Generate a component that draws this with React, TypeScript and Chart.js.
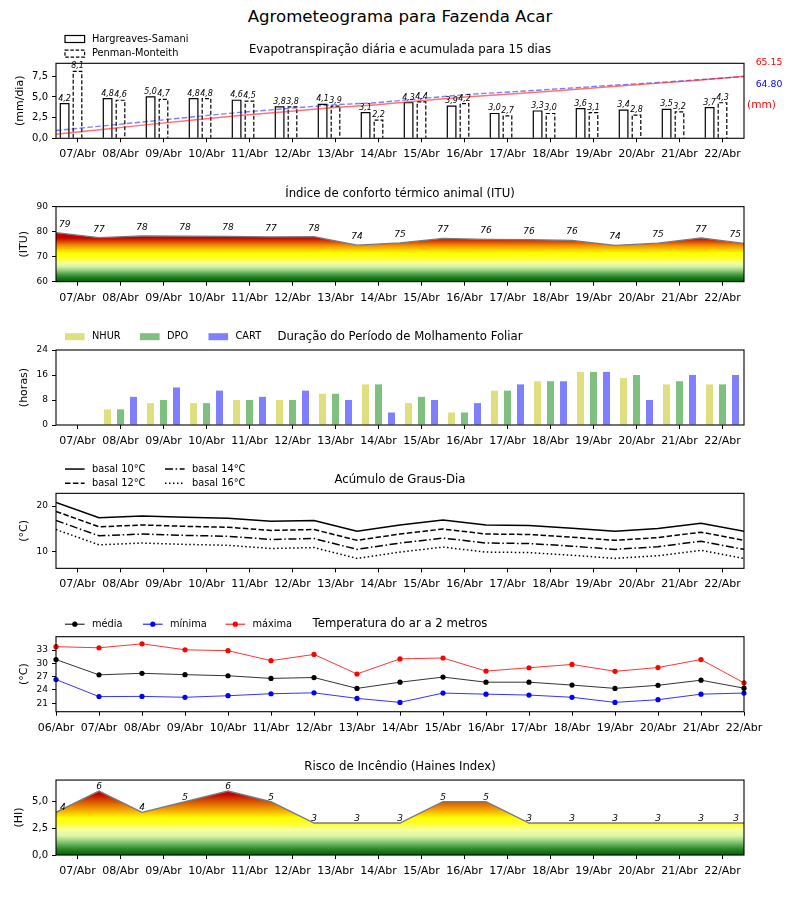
import React, { useEffect, useRef } from "react";
import { Chart, registerables } from "chart.js";

Chart.register(...registerables);

const FONT = "'DejaVu Sans', 'Liberation Sans', sans-serif";

// ---------------- data ----------------
const days = ["07/Abr", "08/Abr", "09/Abr", "10/Abr", "11/Abr", "12/Abr", "13/Abr", "14/Abr", "15/Abr", "16/Abr", "17/Abr", "18/Abr", "19/Abr", "20/Abr", "21/Abr", "22/Abr"];
const tempDays = ["06/Abr", "07/Abr", "08/Abr", "09/Abr", "10/Abr", "11/Abr", "12/Abr", "13/Abr", "14/Abr", "15/Abr", "16/Abr", "17/Abr", "18/Abr", "19/Abr", "20/Abr", "21/Abr", "22/Abr"];

const etHargreaves = [4.2, 4.8, 5.0, 4.8, 4.6, 3.8, 4.1, 3.1, 4.3, 3.9, 3.0, 3.3, 3.6, 3.4, 3.5, 3.7];
const etPenman = [8.1, 4.6, 4.7, 4.8, 4.5, 3.8, 3.9, 2.2, 4.4, 4.2, 2.7, 3.0, 3.1, 2.8, 3.2, 4.3];
const etHargreavesAccum = [4.3, 9.2, 14.4, 19.3, 24.0, 27.9, 32.1, 35.3, 39.7, 43.7, 46.8, 50.2, 53.9, 57.4, 61.0, 65.15];
const etPenmanAccum = [8.2, 12.9, 17.7, 22.6, 27.2, 31.1, 35.1, 37.4, 41.9, 46.2, 49.0, 52.1, 55.3, 58.2, 61.5, 64.8];
const etTotalLabels = ["65.15", "64.80"];
const etTicks = [0, 2.5, 5, 7.5];

const ituValues = [79.6, 77.6, 78.3, 78.2, 78.1, 77.9, 78.0, 74.6, 75.5, 77.3, 76.9, 76.8, 76.5, 74.5, 75.4, 77.5, 75.3];
const ituTicks = [60, 70, 80, 90];

const wetNHUR = [0, 5, 7, 7, 8, 8, 10, 13, 7, 4, 11, 14, 17, 15, 13, 13];
const wetDPO = [0, 5, 8, 7, 8, 8, 10, 13, 9, 4, 11, 14, 17, 16, 14, 13];
const wetCART = [0, 9, 12, 11, 9, 11, 8, 4, 8, 7, 13, 14, 17, 8, 16, 16];
const wetTicks = [0, 8, 16, 24];

const gdd10 = [20.8, 17.4, 17.8, 17.5, 17.3, 16.6, 16.8, 14.4, 15.8, 16.9, 15.8, 15.7, 15.1, 14.4, 15.0, 16.2, 14.4];
const gdd12 = [18.8, 15.4, 15.8, 15.5, 15.3, 14.6, 14.8, 12.4, 13.8, 14.9, 13.8, 13.7, 13.1, 12.4, 13.0, 14.2, 12.4];
const gdd14 = [16.8, 13.4, 13.8, 13.5, 13.3, 12.6, 12.8, 10.4, 11.8, 12.9, 11.8, 11.7, 11.1, 10.4, 11.0, 12.2, 10.4];
const gdd16 = [14.8, 11.4, 11.8, 11.5, 11.3, 10.6, 10.8, 8.4, 9.8, 10.9, 9.8, 9.7, 9.1, 8.4, 9.0, 10.2, 8.4];
const gddTicks = [10, 20];

const tMean = [30.85, 27.4, 27.75, 27.45, 27.2, 26.6, 26.8, 24.35, 25.75, 26.9, 25.75, 25.75, 25.1, 24.35, 25.05, 26.2, 24.4];
const tMin = [26.35, 22.5, 22.55, 22.35, 22.7, 23.15, 23.35, 22.1, 21.2, 23.3, 23.05, 22.85, 22.35, 21.2, 21.8, 23.05, 23.3];
const tMax = [33.75, 33.5, 34.4, 33.05, 32.85, 30.6, 32.0, 27.6, 31.0, 31.2, 28.25, 29.0, 29.75, 28.2, 29.05, 30.85, 25.6];
const tempTicks = [21, 24, 27, 30, 33];

const hainesValues = [4, 6, 4, 5, 6, 5, 3, 3, 3, 5, 5, 3, 3, 3, 3, 3, 3];
const hainesTicks = [0, 2.5, 5];

// ---------------- styles ----------------
const ituStops: [number, string][] = [
  [60, "#005f00"], [61.5, "#1b7a1b"], [63, "#4da24a"], [64.5, "#94cf80"], [66, "#d4f2a4"],
  [67.5, "#f2ffa0"], [69, "#ffff30"], [71.5, "#ffff00"], [73, "#fcc800"], [74.5, "#f09000"],
  [75.5, "#e06000"], [76.5, "#d03000"], [77.5, "#c80000"], [90, "#c00000"],
];
const hainesStops: [number, string][] = [
  [0, "#005f00"], [0.6, "#2e8b2e"], [1.2, "#84c474"], [1.8, "#dcf6aa"], [2.4, "#f8ffa0"],
  [2.9, "#ffff30"], [3.5, "#ffff00"], [4.0, "#f8c000"], [4.6, "#e88000"], [5.2, "#d04000"],
  [5.7, "#c80000"], [7.1, "#c00000"],
];

const fmt1 = (v: number) => v.toFixed(1).replace(".", ",");

const CHART_H = 75;
const chartTopOf = (k: number) => 63.3 + 143.35 * k;
const CANVAS_H = 143;
const ET_BAR_SHIFT = 0.3; // HS bar drawn 0.3 day left of the PM bar
const ET_BAR_PX = 8.6;

// ---------------- plugins ----------------
const barOutline = {
  id: "barOutline",
  afterDatasetDraw(chart: any, args: any) {
    const ds: any = chart.data.datasets[args.index];
    if (!ds.outline) return;
    const ctx = chart.ctx;
    ctx.save();
    ctx.strokeStyle = "#000";
    ctx.lineWidth = 1.2;
    ctx.setLineDash(ds.outlineDash || []);
    args.meta.data.forEach((bar: any) => {
      const p = bar.getProps(["x", "y", "base", "width"], true);
      ctx.beginPath();
      ctx.moveTo(p.x - p.width / 2, p.base);
      ctx.lineTo(p.x - p.width / 2, p.y);
      ctx.lineTo(p.x + p.width / 2, p.y);
      ctx.lineTo(p.x + p.width / 2, p.base);
      ctx.stroke();
    });
    ctx.restore();
  },
};

const decor = {
  id: "decor",
  afterDatasetsDraw(chart: any) {
    const { ctx, chartArea: a } = chart;
    ctx.save();
    ctx.strokeStyle = "#000";
    ctx.lineWidth = 1.1;
    ctx.setLineDash([]);
    ctx.strokeRect(a.left, a.top, a.right - a.left, a.bottom - a.top);
    ctx.restore();
    chart.data.datasets.forEach((ds: any, di: number) => {
      const vl = ds.valueLabels;
      if (!vl) return;
      const meta = chart.getDatasetMeta(di);
      ctx.save();
      ctx.font = vl.font;
      ctx.fillStyle = "#000";
      ctx.textBaseline = "alphabetic";
      const n = meta.data.length;
      meta.data.forEach((el: any, i: number) => {
        const raw = ds.data[i];
        const v = typeof raw === "object" && raw !== null ? raw.y : raw;
        let x = el.x;
        let align = "center";
        if (vl.edge && i === 0) { align = "left"; x += vl.edge[0]; }
        if (vl.edge && i === n - 1) { align = "right"; x -= vl.edge[1]; }
        ctx.textAlign = align;
        ctx.fillText(vl.format(v), x, el.y - vl.dy);
      });
      ctx.restore();
    });
  },
  afterDraw(chart: any) {
    const o = chart.options.plugins.decor || {};
    const { ctx, chartArea: a } = chart;
    ctx.save();
    ctx.fillStyle = "#000";
    ctx.textBaseline = "middle";
    if (o.title) {
      ctx.font = `11.7px ${FONT}`;
      ctx.textAlign = "center";
      ctx.fillText(o.title, (a.left + a.right) / 2, a.top - 13);
    }
    if (o.yTitle) {
      ctx.save();
      ctx.translate(o.yTitleX, (a.top + a.bottom) / 2);
      ctx.rotate(-Math.PI / 2);
      ctx.font = `11px ${FONT}`;
      ctx.textAlign = "center";
      ctx.fillText(o.yTitle, 0, 0);
      ctx.restore();
    }
    (o.legend || []).forEach((it: any) => {
      const y = a.top + it.dy;
      ctx.save();
      if (it.kind === "rect") {
        ctx.fillStyle = it.fill;
        ctx.fillRect(it.x, y - 3.5, 19.6, 7);
        if (it.stroke) {
          ctx.strokeStyle = it.stroke;
          ctx.lineWidth = 1.2;
          ctx.setLineDash(it.dash || []);
          ctx.strokeRect(it.x, y - 3.5, 19.6, 7);
        }
      } else {
        ctx.strokeStyle = it.color;
        ctx.lineWidth = it.width || 1.5;
        ctx.setLineDash(it.dash || []);
        ctx.beginPath();
        ctx.moveTo(it.x, y);
        ctx.lineTo(it.x + 19.6, y);
        ctx.stroke();
        if (it.marker) {
          ctx.fillStyle = it.marker;
          ctx.beginPath();
          ctx.arc(it.x + 9.8, y, 2.6, 0, Math.PI * 2);
          ctx.fill();
        }
      }
      ctx.restore();
      ctx.font = `9.8px ${FONT}`;
      ctx.textAlign = "left";
      ctx.fillStyle = "#000";
      ctx.fillText(it.label, it.x + 27, y);
    });
    (o.texts || []).forEach((t: any) => {
      ctx.font = t.font;
      ctx.fillStyle = t.color || "#000";
      ctx.textAlign = t.align || "center";
      ctx.fillText(t.text, t.x, a.top + t.dy);
    });
    ctx.restore();
  },
};

// ---------------- helpers ----------------
const xCategory = (labels: string[], offset: boolean, height: number) => ({
  type: "category",
  labels,
  offset,
  position: "bottom",
  afterFit: (s: any) => { s.height = height; },
  ticks: { font: { family: FONT, size: 11 }, color: "#000", maxRotation: 0, minRotation: 0, autoSkip: false, padding: 5.5 },
  grid: { display: true, drawOnChartArea: false, drawTicks: true, tickLength: 4, tickColor: "#000", offset: false },
  border: { display: false },
});

const yLinear = (min: number, max: number, ticks: number[], decimals: boolean, size: number) => ({
  type: "linear",
  position: "left",
  min,
  max,
  afterFit: (s: any) => { s.width = 56; },
  afterBuildTicks: (s: any) => { s.ticks = ticks.map((v) => ({ value: v })); },
  ticks: { callback: (v: number) => (decimals ? fmt1(v) : String(v)), font: { family: FONT, size }, color: "#000", padding: 4 },
  grid: { display: true, drawOnChartArea: false, drawTicks: true, tickLength: 4, tickColor: "#000" },
  border: { display: false },
});

const hiddenLinear = (min: number, max: number, position: string) => ({
  type: "linear", display: false, min, max, offset: false, position, grace: 0, beginAtZero: false,
});

const gradientFill = (stops: [number, string][]) => (c: any) => {
  const chart = c.chart;
  const y = chart.scales && chart.scales.y;
  if (!chart.chartArea || !y) return "rgba(0,0,0,0)";
  const y0 = y.getPixelForValue(y.min);
  const y1 = y.getPixelForValue(y.max);
  const g = chart.ctx.createLinearGradient(0, y0, 0, y1);
  stops.forEach(([v, col]) => g.addColorStop(Math.min(1, Math.max(0, (v - y.min) / (y.max - y.min))), col));
  return g;
};

const baseOptions = (padTop: number, decorOpts: any) => ({
  responsive: false,
  animation: false,
  events: [],
  layout: { padding: { top: padTop, right: 56, left: 0, bottom: 0 }, autoPadding: false },
  plugins: { legend: { display: false }, tooltip: { enabled: false }, title: { display: false }, decor: decorOpts },
});

// ---------------- panel configs ----------------
function etConfig(padTop: number, xH: number) {
  const barCommon = {
    type: "bar", xAxisID: "xb", yAxisID: "y", backgroundColor: "#fff", borderWidth: 0,
    grouped: false, barThickness: ET_BAR_PX, order: 1,
  };
  return {
    type: "line",
    data: {
      labels: days,
      datasets: [
        { type: "line", data: etHargreavesAccum.map((v, i) => ({ x: i, y: v })), xAxisID: "xl", yAxisID: "yr", borderColor: "rgba(255,0,0,0.55)", borderWidth: 1.4, pointRadius: 0, fill: false, order: 0 },
        { type: "line", data: etPenmanAccum.map((v, i) => ({ x: i, y: v })), xAxisID: "xl", yAxisID: "yr", borderColor: "rgba(0,0,255,0.5)", borderWidth: 1.4, borderDash: [5.5, 2.4], pointRadius: 0, fill: false, order: 0 },
        { ...barCommon, label: "Hargreaves-Samani", data: etHargreaves.map((v, i) => ({ x: i - ET_BAR_SHIFT, y: v })), outline: true, outlineDash: [], valueLabels: { font: `italic 8px ${FONT}`, dy: 3, format: fmt1 } },
        { ...barCommon, label: "Penman-Monteith", data: etPenman.map((v, i) => ({ x: i, y: v })), outline: true, outlineDash: [4, 2], valueLabels: { font: `italic 8px ${FONT}`, dy: 3, format: fmt1 } },
      ],
    },
    options: {
      ...baseOptions(padTop, {
        title: "Evapotranspiração diária e acumulada para 15 dias",
        yTitle: "(mm/dia)",
        yTitleX: 20,
        legend: [
          { kind: "rect", x: 65, dy: -24.3, fill: "#fff", stroke: "#000", dash: [], label: "Hargreaves-Samani" },
          { kind: "rect", x: 65, dy: -9.6, fill: "#fff", stroke: "#000", dash: [3.5, 1.8], label: "Penman-Monteith" },
        ],
        texts: [
          { text: etTotalLabels[0], x: 769, dy: -0.8, font: `9.3px ${FONT}`, color: "#ff0000" },
          { text: etTotalLabels[1], x: 769, dy: 21.2, font: `9.3px ${FONT}`, color: "#0000ff" },
          { text: "(mm)", x: 761.5, dy: 42, font: `10.6px ${FONT}`, color: "#ff0000" },
        ],
      }),
      scales: {
        x: xCategory(days, true, xH),
        xb: hiddenLinear(-0.5, days.length - 0.5, "bottom"),
        xl: hiddenLinear(0, days.length - 1, "bottom"),
        y: yLinear(0, 9.07, etTicks, true, 10),
        yr: hiddenLinear(0, 78.8, "right"),
      },
    },
  };
}

function ituConfig(padTop: number, xH: number) {
  return {
    type: "line",
    data: {
      labels: days,
      datasets: [
        {
          data: ituValues.map((v, i) => ({ x: i, y: v })), xAxisID: "xl", yAxisID: "y",
          borderColor: "#7a7a7a", borderWidth: 1.4, pointRadius: 0, fill: "start",
          backgroundColor: gradientFill(ituStops),
          valueLabels: { font: `italic 9px ${FONT}`, dy: 6, format: (v: number) => String(Math.floor(v)), edge: [3, 3] },
        },
      ],
    },
    options: {
      ...baseOptions(padTop, { title: "Índice de conforto térmico animal (ITU)", yTitle: "(ITU)", yTitleX: 24 }),
      scales: {
        x: xCategory(days, true, xH),
        xl: hiddenLinear(0, ituValues.length - 1, "bottom"),
        y: yLinear(60, 90, ituTicks, false, 9),
      },
    },
  };
}

function wetConfig(padTop: number, xH: number) {
  const common = { borderWidth: 0, categoryPercentage: 0.907, barPercentage: 0.54 };
  return {
    type: "bar",
    data: {
      labels: days,
      datasets: [
        { label: "NHUR", data: wetNHUR, backgroundColor: "rgba(191,191,0,0.5)", ...common },
        { label: "DPO", data: wetDPO, backgroundColor: "rgba(0,128,0,0.5)", ...common },
        { label: "CART", data: wetCART, backgroundColor: "rgba(0,0,255,0.5)", ...common },
      ],
    },
    options: {
      ...baseOptions(padTop, {
        title: "Duração do Período de Molhamento Foliar",
        yTitle: "(horas)",
        yTitleX: 24,
        legend: [
          { kind: "rect", x: 65, dy: -13.3, fill: "rgba(191,191,0,0.5)", label: "NHUR" },
          { kind: "rect", x: 140, dy: -13.3, fill: "rgba(0,128,0,0.5)", label: "DPO" },
          { kind: "rect", x: 208.5, dy: -13.3, fill: "rgba(0,0,255,0.5)", label: "CART" },
        ],
      }),
      scales: {
        x: xCategory(days, true, xH),
        y: yLinear(0, 24, wetTicks, false, 9),
      },
    },
  };
}

function gddConfig(padTop: number, xH: number) {
  const mk = (data: number[], dash: number[]) => ({
    data: data.map((v, i) => ({ x: i, y: v })), xAxisID: "xl", yAxisID: "y",
    borderColor: "#000", borderWidth: 1.5, borderDash: dash, pointRadius: 0, fill: false,
  });
  return {
    type: "line",
    data: {
      labels: days,
      datasets: [mk(gdd10, []), mk(gdd12, [5.5, 2.4]), mk(gdd14, [8, 2.6, 1.5, 2.6]), mk(gdd16, [1.5, 2.5])],
    },
    options: {
      ...baseOptions(padTop, {
        title: "Acúmulo de Graus-Dia",
        yTitle: "(°C)",
        yTitleX: 24,
        legend: [
          { kind: "line", x: 65, dy: -24.3, color: "#000", dash: [], label: "basal 10°C" },
          { kind: "line", x: 65, dy: -10, color: "#000", dash: [5.5, 2.4], label: "basal 12°C" },
          { kind: "line", x: 165, dy: -24.3, color: "#000", dash: [8, 2.6, 1.5, 2.6], label: "basal 14°C" },
          { kind: "line", x: 165, dy: -10, color: "#000", dash: [1.5, 2.5], label: "basal 16°C" },
        ],
      }),
      scales: {
        x: xCategory(days, true, xH),
        xl: hiddenLinear(0, gdd10.length - 1, "bottom"),
        y: yLinear(6.2, 22.8, gddTicks, false, 9),
      },
    },
  };
}

function tempConfig(padTop: number, xH: number) {
  const mk = (label: string, data: number[], line: string, mark: string) => ({
    label, data, borderColor: line, backgroundColor: mark, borderWidth: 1,
    pointRadius: 2.6, pointBorderWidth: 0, pointBackgroundColor: mark, fill: false,
  });
  return {
    type: "line",
    data: {
      labels: tempDays,
      datasets: [
        mk("média", tMean, "rgba(0,0,0,0.8)", "#000"),
        mk("mínima", tMin, "rgba(0,0,255,0.8)", "#0000ff"),
        mk("máxima", tMax, "rgba(255,0,0,0.8)", "#ff0000"),
      ],
    },
    options: {
      ...baseOptions(padTop, {
        title: "Temperatura do ar a 2 metros",
        yTitle: "(°C)",
        yTitleX: 24,
        legend: [
          { kind: "line", x: 65, dy: -12.5, color: "#000", width: 1, marker: "#000", label: "média" },
          { kind: "line", x: 143, dy: -12.5, color: "#0000ff", width: 1, marker: "#0000ff", label: "mínima" },
          { kind: "line", x: 225.5, dy: -12.5, color: "#ff0000", width: 1, marker: "#ff0000", label: "máxima" },
        ],
      }),
      scales: {
        x: xCategory(tempDays, false, xH),
        y: yLinear(19.1, 36.0, tempTicks, false, 9),
      },
    },
  };
}

function hainesConfig(padTop: number, xH: number) {
  return {
    type: "line",
    data: {
      labels: days,
      datasets: [
        {
          data: hainesValues.map((v, i) => ({ x: i, y: v })), xAxisID: "xl", yAxisID: "y",
          borderColor: "#7a7a7a", borderWidth: 1.4, pointRadius: 0, fill: "start",
          backgroundColor: gradientFill(hainesStops),
          valueLabels: { font: `italic 9px ${FONT}`, dy: 2, format: (v: number) => String(v), edge: [4, 5] },
        },
      ],
    },
    options: {
      ...baseOptions(padTop, { title: "Risco de Incêndio (Haines Index)", yTitle: "(HI)", yTitleX: 19 }),
      scales: {
        x: xCategory(days, true, xH),
        xl: hiddenLinear(0, hainesValues.length - 1, "bottom"),
        y: yLinear(0, 7.03, hainesTicks, true, 10),
      },
    },
  };
}

const builders = [etConfig, ituConfig, wetConfig, gddConfig, tempConfig, hainesConfig];

function Panel({ k }: { k: number }) {
  const ref = useRef<HTMLCanvasElement | null>(null);
  const chartTop = chartTopOf(k);
  const canvasTop = Math.round(chartTop) - 42;
  const padTop = chartTop - canvasTop;
  const xH = CANVAS_H - padTop - CHART_H;
  useEffect(() => {
    if (!ref.current) return;
    const cfg: any = builders[k](padTop, xH);
    cfg.plugins = [barOutline, decor];
    const chart = new Chart(ref.current, cfg);
    return () => chart.destroy();
  }, []);
  return (
    <canvas
      ref={ref}
      width={800}
      height={CANVAS_H}
      style={{ position: "absolute", left: 0, top: canvasTop, width: 800, height: CANVAS_H }}
    />
  );
}

export default function App() {
  return (
    <div style={{ position: "absolute", left: 0, top: 0, width: 800, height: 900, background: "#fff", overflow: "hidden" }}>
      <div
        style={{
          position: "absolute", left: 0, top: 7, width: 800, textAlign: "center",
          fontFamily: FONT, fontSize: "16.6px", lineHeight: "20px", color: "#000",
        }}
      >
        Agrometeograma para Fazenda Acar
      </div>
      {builders.map((_, k) => (
        <Panel key={k} k={k} />
      ))}
    </div>
  );
}
